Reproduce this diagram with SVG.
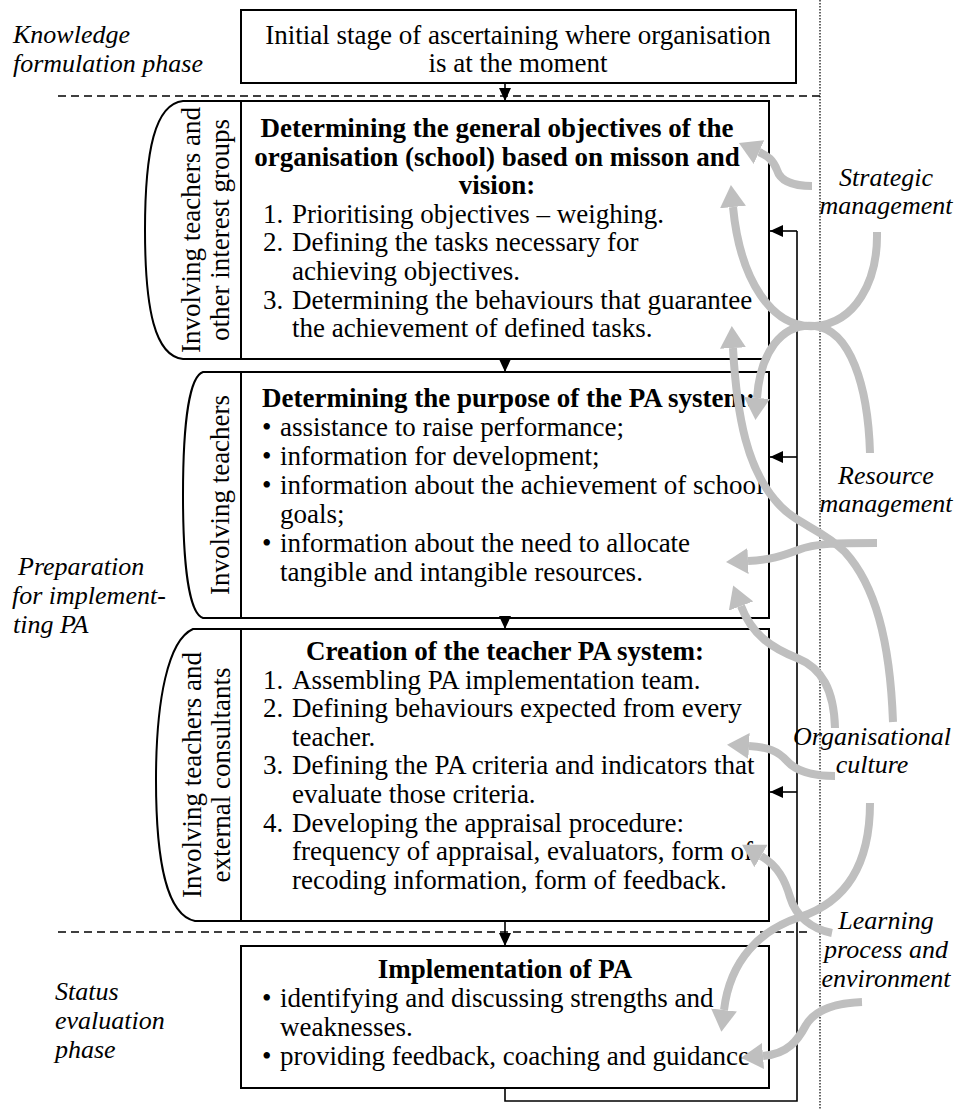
<svg xmlns="http://www.w3.org/2000/svg" width="958" height="1110" viewBox="0 0 958 1110">
  <style>
    text { font-family: "Liberation Serif", "Times New Roman", serif; font-size: 27px; fill: #000; }
    .b { font-weight: bold; }
    .it { font-style: italic; font-size: 26px; }
    .mid { text-anchor: middle; }
    .box { fill: #fff; stroke: #000; stroke-width: 2; }
    .div { stroke: #000; stroke-width: 2; fill: none; }
    .dash { stroke: #000; stroke-width: 1.6; stroke-dasharray: 8 5; fill: none; }
    .dot { stroke: #000; stroke-width: 1.2; stroke-dasharray: 1.5 1.5; fill: none; }
    .flow { stroke: #000; stroke-width: 1.6; fill: none; }
    .infl { stroke: #bfbfbf; stroke-width: 8; fill: none; }
  </style>
  <defs>
    <marker id="tip" markerUnits="userSpaceOnUse" viewBox="0 0 13 12" markerWidth="13" markerHeight="12" refX="13" refY="6" orient="auto">
      <path d="M0,0 L13,6 L0,12 Z" fill="#000"/>
    </marker>
    <marker id="grey" markerUnits="userSpaceOnUse" viewBox="0 0 22 26" markerWidth="22" markerHeight="26" refX="0" refY="13" orient="auto">
      <path d="M0,0 L22,13 L0,26 Z" fill="#bfbfbf"/>
    </marker>
  </defs>

  <!-- phase separators and right-hand divider -->
  <line class="dash" x1="58" y1="96" x2="820" y2="96"/>
  <line class="dash" x1="58" y1="932" x2="808" y2="932"/>
  <line class="dot" x1="820" y1="0" x2="820" y2="1110"/>

  <!-- phase labels -->
  <g id="phase-knowledge">
    <text class="it" x="13" y="43">Knowledge</text>
    <text class="it" x="13" y="72">formulation phase</text>
  </g>
  <g id="phase-preparation">
    <text class="it" x="18" y="575">Preparation</text>
    <text class="it" x="12" y="604">for implement-</text>
    <text class="it" x="13" y="633">ting PA</text>
  </g>
  <g id="phase-status">
    <text class="it" x="55" y="1000">Status</text>
    <text class="it" x="55" y="1029">evaluation</text>
    <text class="it" x="55" y="1058">phase</text>
  </g>

  <!-- stage 0 -->
  <g id="initial-stage">
    <rect class="box" x="241" y="10" width="555" height="73"/>
    <text class="mid" x="518" y="44">Initial stage of ascertaining where organisation</text>
    <text class="mid" x="518" y="72">is at the moment</text>
  </g>

  <!-- stage 1 -->
  <g id="objectives">
    <path class="box" d="M769,101 L183,101 C155,104 145,150 145,230 C145,310 155,356 183,359 L769,359 Z"/>
    <line class="div" x1="241" y1="101" x2="241" y2="359"/>
    <g transform="translate(200,230) rotate(-90)">
      <text class="mid" x="0" y="0">Involving teachers and</text>
      <text class="mid" x="0" y="28.6">other interest groups</text>
    </g>
    <text class="b mid" x="497" y="137">Determining the general objectives of the</text>
    <text class="b mid" x="497" y="165.6">organisation (school) based on misson and</text>
    <text class="b mid" x="497" y="194.2">vision:</text>
    <text x="263" y="222.8">1.</text><text x="292" y="222.8">Prioritising objectives – weighing.</text>
    <text x="263" y="251.4">2.</text><text x="292" y="251.4">Defining the tasks necessary for</text>
    <text x="292" y="280">achieving objectives.</text>
    <text x="263" y="308.6">3.</text><text x="292" y="308.6">Determining the behaviours that guarantee</text>
    <text x="292" y="337.2">the achievement of defined tasks.</text>
  </g>

  <!-- stage 2 -->
  <g id="purpose">
    <path class="box" d="M769,372 L203,372 C190,376 183,420 183,495 C183,570 190,614 203,618 L769,618 Z"/>
    <line class="div" x1="241" y1="372" x2="241" y2="618"/>
    <text class="mid" transform="translate(229,495) rotate(-90)">Involving teachers</text>
    <text class="b" x="262" y="407">Determining the purpose of the PA system:</text>
    <text x="262" y="436">•</text><text x="280" y="436">assistance to raise performance;</text>
    <text x="262" y="465">•</text><text x="280" y="465">information for development;</text>
    <text x="262" y="494">•</text><text x="280" y="494">information about the achievement of school</text>
    <text x="280" y="523">goals;</text>
    <text x="262" y="552">•</text><text x="280" y="552">information about the need to allocate</text>
    <text x="280" y="581">tangible and intangible resources.</text>
  </g>

  <!-- stage 3 -->
  <g id="pa-system">
    <path class="box" d="M769,629 L193,629 C168,640 156,700 156,780 C156,860 166,915 195,921 L769,921 Z"/>
    <line class="div" x1="241" y1="629" x2="241" y2="921"/>
    <g transform="translate(201,775) rotate(-90)">
      <text class="mid" x="0" y="0">Involving teachers and</text>
      <text class="mid" x="0" y="28.6">external consultants</text>
    </g>
    <text class="b mid" x="505" y="660">Creation of the teacher PA system:</text>
    <text x="263" y="688.6">1.</text><text x="292" y="688.6">Assembling PA implementation team.</text>
    <text x="263" y="717.2">2.</text><text x="292" y="717.2">Defining behaviours expected from every</text>
    <text x="292" y="745.8">teacher.</text>
    <text x="263" y="774.4">3.</text><text x="292" y="774.4">Defining the PA criteria and indicators that</text>
    <text x="292" y="803">evaluate those criteria.</text>
    <text x="263" y="831.6">4.</text><text x="292" y="831.6">Developing the appraisal procedure:</text>
    <text x="292" y="860.2">frequency of appraisal, evaluators, form of</text>
    <text x="292" y="888.8">recoding information, form of feedback.</text>
  </g>

  <!-- stage 4 -->
  <g id="implementation">
    <rect class="box" x="241" y="946" width="528" height="142"/>
    <text class="b mid" x="505" y="978">Implementation of PA</text>
    <text x="262" y="1007">•</text><text x="280" y="1007">identifying and discussing strengths and</text>
    <text x="280" y="1036">weaknesses.</text>
    <text x="262" y="1065">•</text><text x="280" y="1065">providing feedback, coaching and guidance</text>
  </g>

  <!-- process flow and feedback loop -->
  <g id="connectors">
    <line class="flow" x1="505" y1="83" x2="505" y2="101" marker-end="url(#tip)"/>
    <line class="flow" x1="505" y1="359" x2="505" y2="372" marker-end="url(#tip)"/>
    <line class="flow" x1="505" y1="618" x2="505" y2="629" marker-end="url(#tip)"/>
    <line class="flow" x1="505" y1="921" x2="505" y2="946" marker-end="url(#tip)"/>
    <polyline class="flow" points="505,1088 505,1101 797,1101 797,231"/>
    <line class="flow" x1="797" y1="231" x2="770" y2="231" marker-end="url(#tip)"/>
    <line class="flow" x1="797" y1="457" x2="770" y2="457" marker-end="url(#tip)"/>
    <line class="flow" x1="797" y1="792" x2="770" y2="792" marker-end="url(#tip)"/>

    <!-- influences -->
    <path class="infl" marker-end="url(#grey)" d="M812,186 C792,186 780,180 777,170 C773,160 768,156 759,152"/>
    <path class="infl" marker-end="url(#grey)" d="M877,232 C878,282 855,323 815,326 C772,329 740,280 733,207"/>
    <path class="infl" marker-end="url(#grey)" d="M870,453 C868,385 850,330 815,326 C780,322 760,355 757,398"/>
    <path class="infl" marker-end="url(#grey)" d="M893,722 C890,640 875,585 845,552 C820,527 795,525 775,500 C748,468 737,420 733,348"/>
    <path class="infl" marker-end="url(#grey)" d="M877,543 C840,543 815,543 798,550 C782,556 770,560 748,561"/>
    <path class="infl" marker-end="url(#grey)" d="M835,728 C834,690 822,668 797,658 C772,648 752,635 741,606"/>
    <path class="infl" marker-end="url(#grey)" d="M835,776 C815,776 797,772 787,761 C778,751 768,747 749,746"/>
    <path class="infl" marker-end="url(#grey)" d="M870,803 C870,868 843,903 800,917 C760,930 730,960 724,1010"/>
    <path class="infl" marker-end="url(#grey)" d="M832,933 C812,929 796,917 790,897 C785,880 778,866 761,856"/>
    <path class="infl" marker-end="url(#grey)" d="M862,1002 C836,1003 815,1010 806,1025 C798,1040 788,1054 763,1056"/>
  </g>

  <!-- influence sources -->
  <g id="strategic-management">
    <text class="it mid" x="886" y="186">Strategic</text>
    <text class="it mid" x="886" y="214">management</text>
  </g>
  <g id="resource-management">
    <text class="it mid" x="886" y="484">Resource</text>
    <text class="it mid" x="886" y="512">management</text>
  </g>
  <g id="organisational-culture">
    <text class="it mid" x="872" y="745">Organisational</text>
    <text class="it mid" x="872" y="773">culture</text>
  </g>
  <g id="learning-environment">
    <text class="it mid" x="886" y="929">Learning</text>
    <text class="it mid" x="886" y="958">process and</text>
    <text class="it mid" x="886" y="987">environment</text>
  </g>
</svg>
